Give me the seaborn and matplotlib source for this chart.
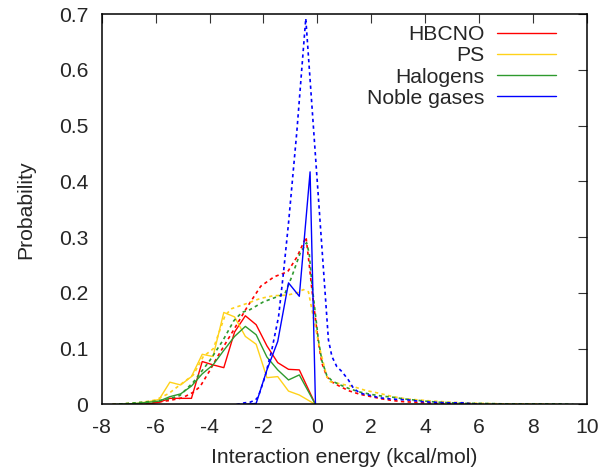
import numpy as np
import pandas as pd
import matplotlib
matplotlib.use("Agg")
import matplotlib.pyplot as plt
import seaborn as sns

# solid curves (attractive part)
hbcno_x = [-7.07, -6.67, -6.27, -5.87, -5.47, -5.07, -4.67, -4.27, -3.87, -3.47,
           -3.07, -2.67, -2.27, -1.87, -1.47, -1.07, -0.67, -0.07]
hbcno_y = [0.0, 0.0, 0.001, 0.004, 0.011, 0.011, 0.011, 0.077, 0.071, 0.066,
           0.13, 0.159, 0.143, 0.105, 0.075, 0.063, 0.062, 0.0]

ps_x = [-7.07, -6.67, -6.27, -5.87, -5.47, -5.07, -4.67, -4.27, -3.87, -3.47,
        -3.07, -2.67, -2.27, -1.87, -1.47, -1.07, -0.67, -0.07]
ps_y = [0.0, 0.002, 0.005, 0.009, 0.04, 0.035, 0.05, 0.09, 0.086, 0.165,
        0.157, 0.122, 0.108, 0.048, 0.05, 0.024, 0.017, 0.0]

hal_x = [-7.47, -7.07, -6.67, -6.27, -5.87, -5.47, -5.07, -4.67, -4.27, -3.87,
         -3.47, -3.07, -2.67, -2.27, -1.87, -1.47, -1.07, -0.67, -0.07]
hal_y = [0.0, 0.001, 0.002, 0.004, 0.006, 0.014, 0.019, 0.033, 0.055, 0.071,
         0.097, 0.122, 0.14, 0.125, 0.085, 0.062, 0.044, 0.053, 0.0]

noble_x = [-2.87, -2.67, -2.27, -1.87, -1.47, -1.07, -0.67, -0.27, -0.07]
noble_y = [0.0, 0.0, 0.002, 0.062, 0.113, 0.218, 0.194, 0.417, 0.0]

# dashed curves (total interaction energy)
hbcno_tot_x = [-7.6, -7.0, -6.5, -6.0, -5.5, -5.0, -4.6, -4.35, -4.0, -3.7, -3.4,
               -3.1, -2.6, -2.1, -1.6, -1.1, -0.75, -0.42, -0.3, -0.2, -0.08, 0.04,
               0.17, 0.35, 0.55, 0.85, 1.2, 1.6, 2.0, 2.4, 2.8, 3.2, 3.6, 4.0, 4.5,
               5.0, 5.5, 6.0]
hbcno_tot_y = [0.0, 0.001, 0.002, 0.004, 0.007, 0.012, 0.022, 0.032, 0.06, 0.086, 0.11,
               0.134, 0.175, 0.212, 0.229, 0.238, 0.265, 0.30, 0.25, 0.205, 0.157, 0.11,
               0.074, 0.05, 0.04, 0.032, 0.024, 0.018, 0.014, 0.01, 0.007, 0.005, 0.004,
               0.003, 0.002, 0.001, 0.001, 0.0]

ps_tot_x = [-7.6, -7.0, -6.5, -6.0, -5.5, -5.1, -4.6, -4.23, -3.86, -3.42, -3.17,
            -2.62, -2.12, -1.63, -1.13, -0.75, -0.52, -0.33, -0.15, 0.1, 0.35, 0.47,
            0.85, 1.34, 1.8, 2.3, 2.8, 3.3, 3.8, 4.3, 5.0, 6.0, 7.0, 8.0, 9.0]
ps_tot_y = [0.0, 0.002, 0.004, 0.008, 0.02, 0.035, 0.053, 0.086, 0.1, 0.16, 0.172,
            0.181, 0.19, 0.195, 0.196, 0.2, 0.206, 0.202, 0.157, 0.098, 0.05, 0.041,
            0.037, 0.032, 0.025, 0.02, 0.014, 0.01, 0.008, 0.006, 0.004, 0.002, 0.001,
            0.001, 0.0]

hal_tot_x = [-7.6, -7.0, -6.5, -6.0, -5.5, -5.1, -4.6, -4.0, -3.5, -3.1, -2.8, -2.5,
             -2.0, -1.5, -1.2, -0.95, -0.64, -0.4, -0.3, -0.2, -0.08, 0.04, 0.17,
             0.35, 0.55, 0.85, 1.2, 1.6, 2.0, 2.4, 2.8, 3.2, 3.6, 4.0, 4.5, 5.0, 5.5,
             6.0, 7.0, 8.0, 9.0, 9.5]
hal_tot_y = [0.0, 0.002, 0.004, 0.006, 0.01, 0.016, 0.04, 0.078, 0.115, 0.15, 0.165,
             0.17, 0.184, 0.193, 0.199, 0.229, 0.271, 0.29, 0.27, 0.215, 0.165, 0.115,
             0.078, 0.052, 0.042, 0.035, 0.028, 0.022, 0.018, 0.015, 0.013, 0.01,
             0.008, 0.006, 0.004, 0.003, 0.002, 0.002, 0.001, 0.001, 0.001, 0.0]

noble_tot_x = [-3.0, -2.7, -2.5, -2.3, -2.19, -1.94, -1.69, -1.44, -1.26, -1.07, -0.76,
               -0.43, 0.41, 0.54, 0.72, 0.91, 1.15, 1.34, 1.59, 1.9, 2.3, 2.7, 3.0,
               3.4, 3.9, 4.3, 4.8, 5.4, 6.0]
noble_tot_y = [0.0, 0.003, 0.004, 0.008, 0.014, 0.05, 0.098, 0.157, 0.235, 0.325, 0.49,
               0.692, 0.116, 0.086, 0.068, 0.059, 0.044, 0.029, 0.02, 0.017, 0.012,
               0.01, 0.009, 0.008, 0.005, 0.004, 0.003, 0.003, 0.0]

labels = ["HBCNO", "PS", "Halogens", "Noble gases"]
colors = ["#ff0000", "#ffd21a", "#2e9a2e", "#0000ff"]

solid = [(hbcno_x, hbcno_y), (ps_x, ps_y), (hal_x, hal_y), (noble_x, noble_y)]
dashed = [(hbcno_tot_x, hbcno_tot_y), (ps_tot_x, ps_tot_y),
          (hal_tot_x, hal_tot_y), (noble_tot_x, noble_tot_y)]

sns.set_style("white")
plt.rcParams['font.family'] = ['Liberation Sans', 'DejaVu Sans']
fs = 15.2

fig = plt.figure(figsize=(5.98, 4.70), dpi=100)
ax = fig.add_axes([0.170, 0.1394, 0.8116, 0.8308])

for (xs, ys), (xd, yd), lab, col in zip(solid, dashed, labels, colors):
    sns.lineplot(x=xs, y=ys, ax=ax, color=col, linewidth=1.0, label=lab,
                 estimator=None, sort=False, legend=False)
    sns.lineplot(x=xd, y=yd, ax=ax, color=col, linewidth=1.2,
                 linestyle=(0, (2, 2)), estimator=None, sort=False, legend=False)

ax.set_xlim(-8, 10)
ax.set_ylim(0, 0.7)
ax.set_xticks(np.arange(-8, 11, 2))
ax.set_yticks(np.arange(0, 0.71, 0.1))
ax.set_yticklabels(['0' if i == 0 else f'{v:.1f}' for i, v in enumerate(np.arange(0, 0.71, 0.1))])
ax.set_xticklabels([str(v) for v in range(-8, 11, 2)])

ax.tick_params(direction='in', length=6.5, width=0.8, color='#333333',
               top=True, right=True, labelsize=fs, pad=9.5)
for sp in ax.spines.values():
    sp.set_color('black')
    sp.set_linewidth(1.1)

ax.set_xlabel("Interaction energy (kcal/mol)", fontsize=fs, labelpad=8)
ax.set_ylabel("Probability", fontsize=fs, labelpad=17)

ax.legend(loc='upper right', bbox_to_anchor=(0.936, 0.971), frameon=False,
          markerfirst=False, fontsize=fs, handlelength=2.8, handletextpad=0.6,
          borderpad=0, labelspacing=0.1, borderaxespad=0)

fig.savefig("out.png", dpi=100)
